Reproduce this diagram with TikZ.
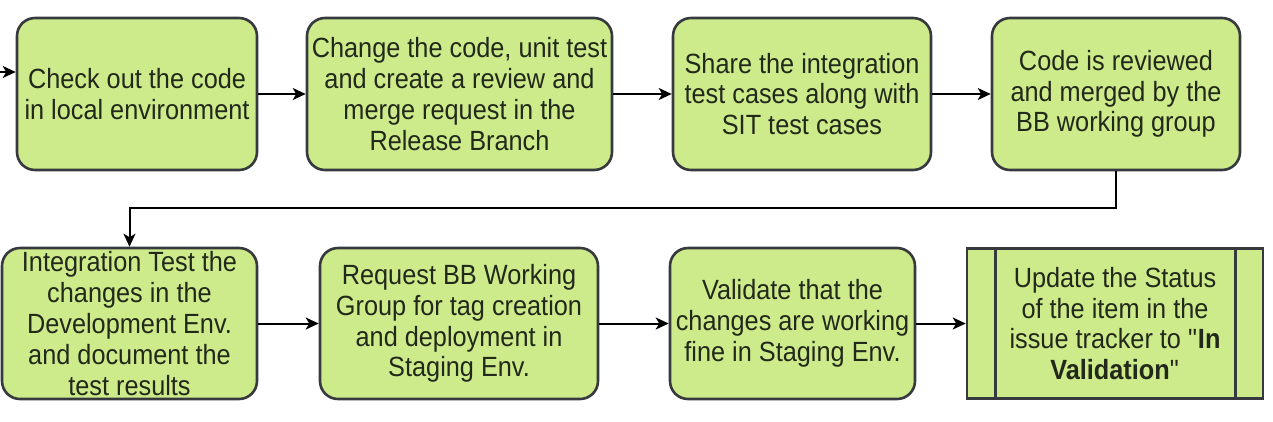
\documentclass[tikz,border=0pt]{standalone}
\usepackage{fontspec}
\setmainfont[FakeStretch=0.91]{Liberation Sans}
\usetikzlibrary{arrows.meta}
\definecolor{boxfill}{HTML}{CDEB8B}
\definecolor{boxline}{HTML}{36393D}
\definecolor{txt}{HTML}{22281A}
\begin{document}
\begin{tikzpicture}[x=1pt,y=-1pt,
  stepbox/.style={draw=boxline, fill=boxfill, line width=2.6pt, rounded corners=18pt,
    align=center, inner sep=0pt, text=txt, font=\fontsize{27.8}{30.8}\selectfont},
  procbox/.style={draw=boxline, fill=boxfill, line width=2.6pt,
    align=center, inner sep=0pt, text=txt, font=\fontsize{27.8}{30.8}\selectfont},
  flow/.style={draw=black, line width=2pt, -{Stealth[length=13pt,width=12pt,inset=3.5pt]}}]
\fill[white] (0,0) rectangle (1273,421);
\useasboundingbox (0,0) rectangle (1273,421);

\node[stepbox, minimum width=240pt, minimum height=152pt] (b1) at (137,94)
  {Check out the code\\in local environment};
\node[stepbox, minimum width=305pt, minimum height=152pt] (b2) at (459.5,94)
  {Change the code, unit test\\and create a review and\\merge request in the\\Release Branch};
\node[stepbox, minimum width=258pt, minimum height=152pt] (b3) at (802,94)
  {Share the integration\\test cases along with\\SIT test cases};
\node[stepbox, minimum width=248pt, minimum height=152pt] (b4) at (1116,94)
  {Code is reviewed\\and merged by the\\BB working group};

\node[stepbox, minimum width=255pt, minimum height=151pt] (b5) at (129.5,323.5)
  {Integration Test the\\changes in the\\Development Env.\\and document the\\test results};
\node[stepbox, minimum width=278pt, minimum height=151pt] (b6) at (459,323.5)
  {Request BB Working\\Group for tag creation\\and deployment in\\Staging Env.};
\node[stepbox, minimum width=245pt, minimum height=151pt] (b7) at (792.5,323.5)
  {Validate that the\\changes are working\\fine in Staging Env.};
\node[procbox, minimum width=296pt, minimum height=150pt] (b8) at (1115,323.5)
  {Update the Status\\of the item in the\\issue tracker to \textquotedbl\textbf{In}\\\textbf{Validation}\textquotedbl};
\draw[boxline, line width=2.6pt] ([xshift=30pt]b8.north west) -- ([xshift=30pt]b8.south west);
\draw[boxline, line width=2.6pt] ([xshift=-29pt]b8.north east) -- ([xshift=-29pt]b8.south east);

\coordinate (in) at (0,72);
\draw[flow] (in) -- (in -| b1.west);
\draw[flow] (b1.east) -- (b2.west);
\draw[flow] (b2.east) -- (b3.west);
\draw[flow] (b3.east) -- (b4.west);
\coordinate (turn) at (0,208);
\draw[flow] (b4.south) |- (turn -| b5.north) -- (b5.north);
\draw[flow] (b5.east) -- (b6.west);
\draw[flow] (b6.east) -- (b7.west);
\draw[flow] (b7.east) -- (b8.west);
\end{tikzpicture}
\end{document}
